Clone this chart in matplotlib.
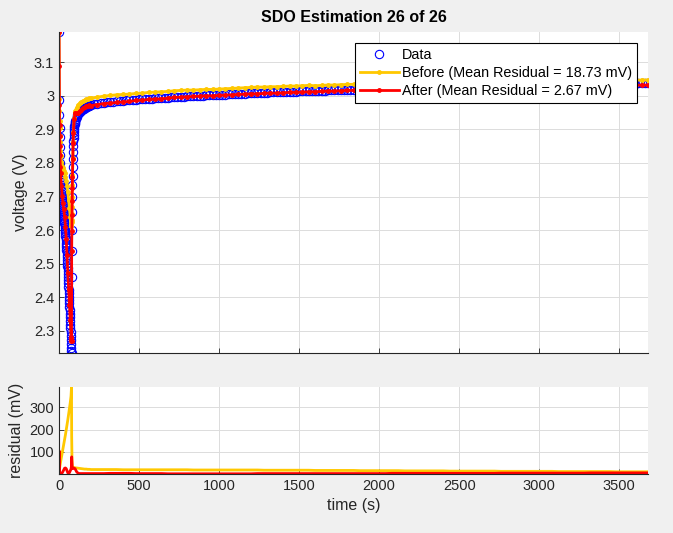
import numpy as np
import matplotlib
matplotlib.use("Agg")
import matplotlib.pyplot as plt

plt.rcParams['font.family'] = ['Liberation Sans', 'DejaVu Sans']

# measured voltage (V), sampled 1 s during the pulse and early rest
v_pulse = [3.190, 2.986, 2.943, 2.905, 2.876, 2.848, 2.824, 2.801, 2.788, 2.777,
           2.767, 2.758, 2.750, 2.742, 2.735, 2.728, 2.721, 2.715, 2.709, 2.703,
           2.697, 2.691, 2.686, 2.680, 2.675, 2.669, 2.664, 2.658, 2.653, 2.647,
           2.642, 2.636, 2.631, 2.625, 2.620, 2.614, 2.608, 2.602, 2.596, 2.590,
           2.583, 2.577, 2.570, 2.563, 2.556, 2.549, 2.542, 2.534, 2.526, 2.519,
           2.511, 2.502, 2.494, 2.486, 2.477, 2.468, 2.459, 2.450, 2.441, 2.431,
           2.422, 2.412, 2.402, 2.392, 2.382, 2.372, 2.361, 2.351, 2.340, 2.329,
           2.318, 2.307, 2.296, 2.284, 2.273, 2.261, 2.249, 2.240, 2.234]
v_recovery = [2.460, 2.538, 2.600, 2.653, 2.698, 2.734, 2.762, 2.787, 2.811, 2.833,
              2.850, 2.864, 2.875, 2.884, 2.892, 2.899, 2.905, 2.910, 2.915, 2.919,
              2.923, 2.926]
# 105..195 s every 5 s
v_relax = [2.932, 2.938, 2.943, 2.947, 2.950, 2.953, 2.955, 2.957, 2.959, 2.961,
           2.962, 2.964, 2.965, 2.967, 2.968, 2.969, 2.970, 2.971, 2.972]
# 200..3680 s every 20 s
v_tail = [2.973, 2.975, 2.976, 2.978, 2.979, 2.980, 2.981, 2.982, 2.983, 2.984,
          2.985, 2.986, 2.986, 2.987, 2.988, 2.989, 2.989, 2.990, 2.991, 2.991,
          2.992, 2.993, 2.993, 2.994, 2.994, 2.995, 2.996, 2.996, 2.997, 2.997,
          2.998, 2.998, 2.999, 2.999, 3.000, 3.000, 3.001, 3.001, 3.001, 3.002,
          3.002, 3.003, 3.003, 3.004, 3.004, 3.005, 3.005, 3.006, 3.006, 3.007,
          3.007, 3.008, 3.008, 3.008, 3.009, 3.009, 3.010, 3.010, 3.010, 3.011,
          3.011, 3.011, 3.012, 3.012, 3.012, 3.013, 3.013, 3.013, 3.014, 3.014,
          3.014, 3.015, 3.015, 3.015, 3.016, 3.016, 3.016, 3.017, 3.017, 3.017,
          3.018, 3.018, 3.018, 3.019, 3.019, 3.019, 3.019, 3.020, 3.020, 3.020,
          3.021, 3.021, 3.021, 3.021, 3.022, 3.022, 3.022, 3.022, 3.023, 3.023,
          3.023, 3.023, 3.024, 3.024, 3.024, 3.024, 3.025, 3.025, 3.025, 3.025,
          3.026, 3.026, 3.026, 3.026, 3.027, 3.027, 3.027, 3.027, 3.027, 3.028,
          3.028, 3.028, 3.028, 3.028, 3.029, 3.029, 3.029, 3.029, 3.029, 3.030,
          3.030, 3.030, 3.030, 3.030, 3.031, 3.031, 3.031, 3.031, 3.031, 3.031,
          3.032, 3.032, 3.032, 3.032, 3.032, 3.033, 3.033, 3.033, 3.033, 3.033,
          3.033, 3.034, 3.034, 3.034, 3.034, 3.034, 3.034, 3.035, 3.035, 3.035,
          3.035, 3.035, 3.035, 3.035, 3.036, 3.036, 3.036, 3.036, 3.036, 3.036,
          3.036, 3.037, 3.037, 3.037, 3.037]

# model evaluation times (s); tail continues every 40 s from 200 s
t_model_early = [0, 1, 2, 3, 4, 5, 6, 8, 10, 15, 20, 25, 30, 35, 40, 45, 50, 55, 60,
                 65, 70, 75, 76, 77, 78, 79, 80, 81, 82, 83, 84, 86, 88, 90, 95, 100,
                 110, 120, 130, 140, 150, 160, 170, 180, 190]

# model minus data (mV)
before_early = [0, 5, 12, 20, 27, 33, 38, 47, 55, 75, 95, 115, 135, 155, 176, 198,
                220, 244, 268, 294, 320, 350, 362, 378, 391, 170, 110, 70, 45, 35,
                30, 28, 29, 29, 29, 28, 27, 26, 25, 24, 23, 22, 22, 21, 21]
before_tail = [20, 20, 20, 20, 20, 19, 19, 19, 19, 19,
               19, 19, 19, 19, 19, 19, 18, 18, 18, 18,
               18, 18, 18, 18, 18, 18, 18, 17, 17, 17,
               17, 17, 17, 17, 17, 16, 16, 16, 16, 16,
               16, 16, 15, 15, 15, 15, 15, 15, 15, 14,
               14, 14, 14, 14, 14, 14, 13, 13, 13, 13,
               13, 13, 13, 13, 12, 12, 12, 12, 12, 12,
               12, 12, 12, 11, 11, 11, 11, 11, 11, 11,
               11, 11, 10, 10, 10, 10, 10, 10]
after_early = [0, 104, 30, 8, 4, 2, 1, 1, 2, 3, 5, 12, 20, 26, 27, 24, 15, 5, 2, 6,
               14, 22, 26, 30, 36, 77, 60, 45, 35, 28, 24, 24, 25, 26, 26, 24, 10,
               3, 2, 2, 2, 2, 2, 2, 2]
after_tail = [-2, -2, -2, -3, -3, -3, -3, -2, -2, -2,
              -2, -2, -1, -1, -1, -1, -1, -1, -1, -1,
              -1, -1, -1, -1, -1, -1, -2, -2, -2, -2,
              -2, -2, -2, -2, -2, -2, -2, -2, -2, -2,
              -2, -2, -2, -2, -2, -2, -2, -3, -3, -3,
              -3, -3, -3, -3, -3, -3, -3, -3, -3, -3,
              -3, -3, -3, -3, -4, -4, -4, -4, -4, -4,
              -4, -4, -4, -4, -4, -4, -4, -4, -5, -5,
              -5, -5, -5, -5, -5, -5, -5, -5]

labels = ['Data',
          'Before (Mean Residual = 18.73 mV)',
          'After (Mean Residual = 2.67 mV)']

t_data = np.concatenate([np.arange(0, 79), np.arange(79, 101),
                         np.arange(105, 200, 5), np.arange(200, 3681, 20)])
v_data = np.concatenate([v_pulse, v_recovery, v_relax, v_tail])

t_model = np.concatenate([t_model_early, np.arange(200, 3681, 40)])
idx = np.searchsorted(t_data, t_model)
before_mv = np.array(before_early + before_tail, dtype=float)
after_mv = np.array(after_early + after_tail, dtype=float)
v_before = v_data[idx] + before_mv / 1000
v_after = v_data[idx] + after_mv / 1000

yellow = '#ffc800'
axcol = '#262626'

fig = plt.figure(figsize=(6.73, 5.33), dpi=100, facecolor='#f0f0f0')
ax1 = fig.add_axes([0.0877, 0.3377, 0.8752, 0.6023])
ax2 = fig.add_axes([0.0877, 0.1107, 0.8752, 0.1632], sharex=ax1)

ax1.plot(t_data, v_data, 'o', mfc='none', mec='b', ms=6, mew=0.8, label=labels[0])
ax1.plot(t_model, v_before, '.-', color=yellow, lw=2, ms=5, label=labels[1])
ax1.plot(t_model, v_after, '.-', color='r', lw=2, ms=5, label=labels[2])

ax2.plot(t_model, np.abs(before_mv), '-', color=yellow, lw=2)
ax2.plot(t_model, np.abs(after_mv), '-', color='r', lw=2)

ax1.set_xlim(0, t_data.max())
ax1.set_ylim(v_data.min(), v_data.max())
yt = [2.3, 2.4, 2.5, 2.6, 2.7, 2.8, 2.9, 3.0, 3.1]
ax1.set_yticks(yt)
ax1.set_yticklabels(['2.3', '2.4', '2.5', '2.6', '2.7', '2.8', '2.9', '3', '3.1'])
ax1.set_xticks(np.arange(0, 3501, 500))
ax1.tick_params(labelbottom=False)

ax2.set_ylim(0, max(np.abs(before_mv).max(), np.abs(after_mv).max()))
ax2.set_yticks([100, 200, 300])

for ax in (ax1, ax2):
    ax.set_facecolor('white')
    ax.grid(True, color='#dcdcdc', lw=0.7)
    ax.set_axisbelow(True)
    for s in ('top', 'right'):
        ax.spines[s].set_visible(False)
    for s in ('left', 'bottom'):
        ax.spines[s].set_color(axcol)
        ax.spines[s].set_linewidth(0.8)
    ax.tick_params(direction='in', length=3.5, width=0.6, colors=axcol,
                   labelsize=10.5, labelcolor=axcol)

ax1.set_ylabel('voltage (V)', fontsize=11.5, color=axcol)
ax2.set_ylabel('residual (mV)', fontsize=11.5, color=axcol)
ax2.set_xlabel('time (s)', fontsize=11.5, color=axcol)
ax1.set_title('SDO Estimation 26 of 26', fontsize=11.5, fontweight='bold', pad=7)

leg = ax1.legend(loc='upper right', bbox_to_anchor=(0.981, 0.967), fontsize=10.4,
                 frameon=True, fancybox=False, handlelength=2.7, handletextpad=0.2,
                 labelspacing=0.3, borderpad=0.35, borderaxespad=0)
leg.get_frame().set_edgecolor('black')
leg.get_frame().set_linewidth(0.8)
leg.get_frame().set_alpha(1)

fig.savefig('out.png', dpi=100, facecolor=fig.get_facecolor())
